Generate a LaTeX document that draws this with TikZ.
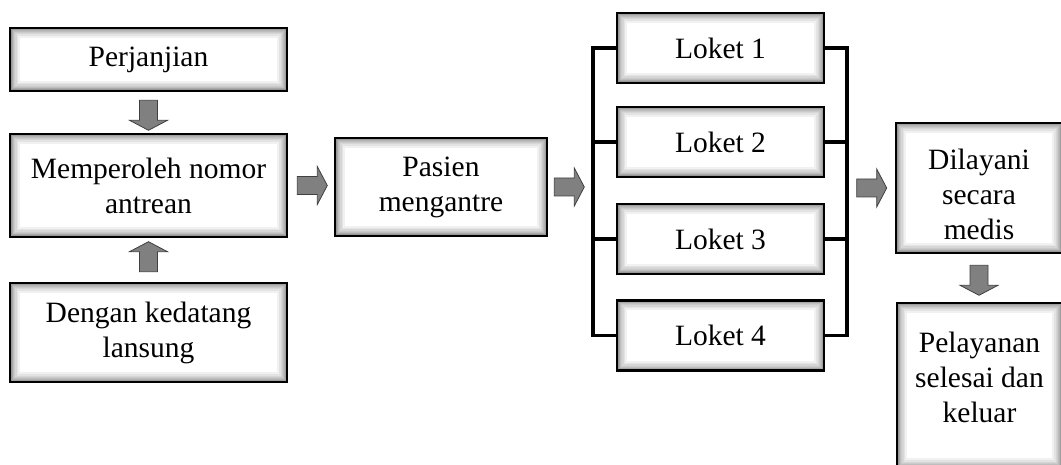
\documentclass[tikz,border=0pt]{standalone}
\usepackage{fontspec}
\setmainfont{Liberation Serif}
\usetikzlibrary{calc}

\tikzset{
  % white box with a soft dark inner glow along its edges
  flowbox/.style={draw=black, line width=2.6pt, fill=white, align=center, inner sep=0pt,
    font=\fontsize{29.5}{35}\selectfont,
    path picture={
      \foreach \w in {3,4,5,6,8,10,13,16,20}{
        \draw[line width=\w pt, black, opacity=0.055]
          (path picture bounding box.south west) rectangle (path picture bounding box.north east);
      }
    }},
  boxtext/.style={align=center, inner sep=0pt, font=\fontsize{29.5}{35}\selectfont},
  bracket/.style={line width=3.4pt, line join=miter},
  blockarrow/.style={fill=black!50, draw=black!75, line width=0.8pt, line join=miter},
  % fat arrow, base at the origin, pointing along +x
  pics/fatarrow/.style={code={
    \path[blockarrow] (0,-9) -- (20,-9) -- (20,-19) -- (30,0) -- (20,19) -- (20,9) -- (0,9) -- cycle;
  }}
}

\begin{document}
\begin{tikzpicture}[x=1pt, y=-1pt]
  \useasboundingbox (0,0) rectangle (1061,465);
  \clip (0,0) rectangle (1061,465);

  % left column
  \node[flowbox, minimum width=277pt, minimum height=63pt]  (perj) at (148.5,59.5)  {Perjanjian};
  \node[flowbox, minimum width=277pt, minimum height=103pt] (memp) at (148.5,185.5) {Memperoleh nomor\\antrean};
  \node[flowbox, minimum width=277pt, minimum height=99pt]  (deng) at (148.5,332.5) {Dengan kedatang\\lansung};

  % queue
  \node[flowbox, minimum width=212pt, minimum height=98pt] (pas) at (441,187) {Pasien\\mengantre};

  % counters
  \node[flowbox, minimum width=207pt, minimum height=70pt] (l1) at (720.5,48)    {Loket 1};
  \node[flowbox, minimum width=207pt, minimum height=70pt] (l2) at (720.5,142)   {Loket 2};
  \node[flowbox, minimum width=207pt, minimum height=70pt] (l3) at (720.5,239)   {Loket 3};
  \node[flowbox, minimum width=207pt, minimum height=70pt] (l4) at (720.5,335.5) {Loket 4};

  % right column
  \node[flowbox, minimum width=166pt, minimum height=130pt] (dil) at (979,188) {};
  \node[boxtext] (diltext) at (979,194) {Dilayani\\secara\\medis};
  \node[flowbox, minimum width=165pt, minimum height=165pt] (pel) at (979.5,385.5) {};
  \node[boxtext] (peltext) at (979.5,377) {Pelayanan\\selesai dan\\keluar};

  % brackets joining the counters
  \coordinate (bl) at (593,0);
  \coordinate (br) at (847,0);
  \draw[bracket] (l1.west) -- (l1.west -| bl) -- (l4.west -| bl) -- (l4.west);
  \draw[bracket] (l2.west) -- (l2.west -| bl);
  \draw[bracket] (l3.west) -- (l3.west -| bl);
  \draw[bracket] (l1.east) -- (l1.east -| br) -- (l4.east -| br) -- (l4.east);
  \draw[bracket] (l2.east) -- (l2.east -| br);
  \draw[bracket] (l3.east) -- (l3.east -| br);

  % fat arrows between the steps
  \pic[rotate=-90] at ($(perj.south)+(0,8)$) {fatarrow};
  \pic[rotate=90]  at ($(deng.north)+(0,-10)$) {fatarrow};
  \pic at ($(memp.east)+(9,0)$) {fatarrow};
  \pic at ($(pas.east)+(6,0)$) {fatarrow};
  \pic at ($(dil.west)+(-38,0)$) {fatarrow};
  \pic[rotate=-90] at ($(dil.south)+(0,11)$) {fatarrow};
\end{tikzpicture}
\end{document}
